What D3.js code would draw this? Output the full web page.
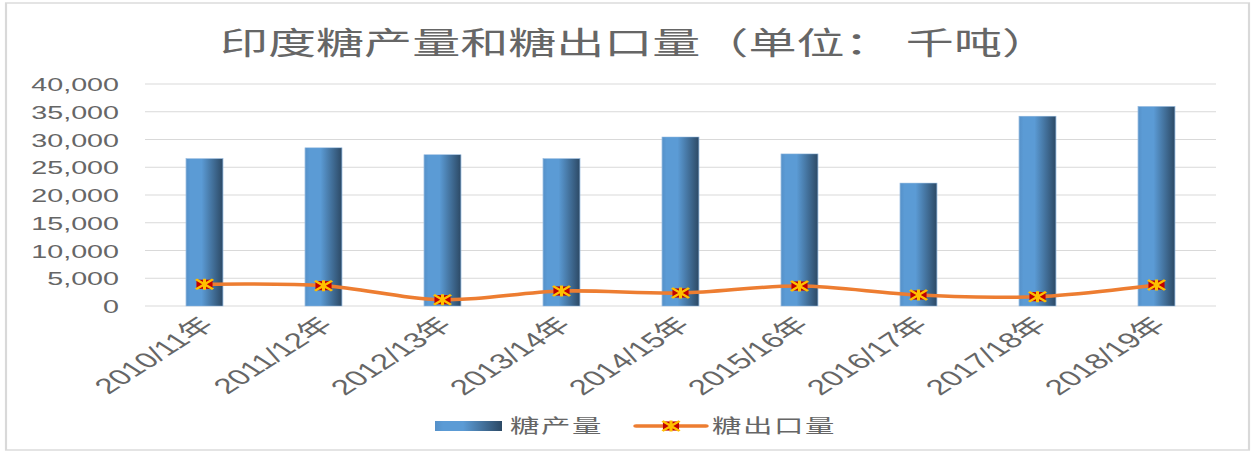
<!DOCTYPE html>
<html>
<head>
<meta charset="utf-8">
<script src="https://d3js.org/d3.v7.min.js"></script>
<style>
body{margin:0;background:#fff;}
svg{display:block;}
</style>
</head>
<body>
<div id="chart"></div>
<script>
var years = ['2010/11年','2011/12年','2012/13年','2013/14年','2014/15年','2015/16年','2016/17年','2017/18年','2018/19年'];
var production = [26550,28500,27250,26550,30450,27400,22150,34200,35950];
var exports = [3910,3660,1140,2700,2340,3600,1980,1680,3780];
var yTicks = [0,5000,10000,15000,20000,25000,30000,35000,40000];
var seriesNames = ['糖产量','糖出口量'];
var title = '印度糖产量和糖出口量（单位： 千吨）';

//the reference is stretched sideways, so draw in a narrow space and scale it out
var W = 1252, H = 454, S = 1.55,
	w = W/S;

var svg = d3.select('#chart').append('svg')
	.attr('width',W).attr('height',H);

var defs = svg.append('defs');
var grad = defs.append('linearGradient').attr('id','barGrad')
	.attr('x1','0%').attr('x2','100%').attr('y1','0%').attr('y2','0%');
grad.append('stop').attr('offset','0%').attr('stop-color','#5590c8');
grad.append('stop').attr('offset','12%').attr('stop-color','#5b9bd5');
grad.append('stop').attr('offset','42%').attr('stop-color','#5b9bd5');
grad.append('stop').attr('offset','100%').attr('stop-color','#2c4965');

var g = svg.append('g').attr('transform','scale('+S+',1)');
var font = '"Liberation Sans","Noto Sans CJK SC",sans-serif';

//outer frame
g.append('rect')
	.attr('x',6/S).attr('y',3)
	.attr('width',(1249-6)/S).attr('height',447)
	.style('fill','none').style('stroke','#d9d9d9').style('stroke-width',1.4);

var x = d3.scaleBand().domain(years).range([145/S,1216/S]);
var y = d3.scaleLinear().domain([0,40000]).range([306,84]);

//gridlines
g.selectAll('.grid').data(yTicks).enter().append('line')
	.attr('class','grid')
	.attr('x1',x.range()[0]).attr('x2',x.range()[1])
	.attr('y1',function(d){return y(d)}).attr('y2',function(d){return y(d)})
	.style('stroke','#d9d9d9').style('stroke-width',1.2);

//y axis labels
var yAxis = d3.axisLeft(y).tickValues(yTicks).tickSize(0).tickPadding(0)
	.tickFormat(d3.format(','));
g.append('g').attr('transform','translate('+(119/S)+',0)').call(yAxis)
	.call(function(a){a.select('.domain').remove();})
	.selectAll('text')
	.attr('dy','0.36em')
	.style('font-family',font).style('font-size','18.5px').style('fill','#666');

//x axis labels
var xAxis = d3.axisBottom(x).tickSize(0).tickPadding(0);
g.append('g').attr('transform','translate(0,306)').call(xAxis)
	.call(function(a){a.select('.domain').remove();})
	.selectAll('text')
	.attr('text-anchor','end')
	.attr('dy',0).attr('y',0)
	.attr('transform','translate(7,20) rotate(-45)')
	.style('font-family',font).style('font-size','21.5px').style('fill','#666');

//bars
var bw = x.bandwidth()*0.31;
g.selectAll('.bar').data(production).enter().append('rect')
	.attr('class','bar')
	.attr('x',function(d,i){return x(years[i])+x.bandwidth()/2-bw/2})
	.attr('y',function(d){return y(d)})
	.attr('width',bw)
	.attr('height',function(d){return y(0)-y(d)})
	.style('fill','url(#barGrad)')
	.style('stroke','#8fb6de').style('stroke-width',0.5);

//export line
var line = d3.line()
	.x(function(d,i){return x(years[i])+x.bandwidth()/2})
	.y(function(d){return y(d)})
	.curve(d3.curveCatmullRom.alpha(0.5));

g.append('path').datum(exports)
	.attr('d',line)
	.style('fill','none').style('stroke','#ed7d31').style('stroke-width',3.6)
	.style('stroke-linecap','round').style('stroke-linejoin','round');

function marker(sel){
	sel.append('rect')
		.attr('x',-5.2).attr('y',-4.6).attr('width',10.4).attr('height',9.2)
		.style('fill','#c00000');
	sel.append('path')
		.attr('d','M-5.5,-5L5.5,5M-5.5,5L5.5,-5M0,-5.5L0,5.5')
		.style('stroke','#ffc000').style('stroke-width',2).style('fill','none');
}

g.selectAll('.mark').data(exports).enter().append('g')
	.attr('class','mark')
	.attr('transform',function(d,i){return 'translate('+(x(years[i])+x.bandwidth()/2)+','+y(d)+')'})
	.call(marker);

//title
g.append('text')
	.attr('x',635/S).attr('y',54)
	.attr('text-anchor','middle')
	.style('font-family',font).style('font-size','31px').style('fill','#666')
	.text(title);

//legend
var leg = g.append('g').attr('transform','translate(0,426)');
leg.append('rect')
	.attr('x',435/S).attr('y',-5).attr('width',67/S).attr('height',10)
	.style('fill','url(#barGrad)');
leg.append('text')
	.attr('x',510/S).attr('y',7)
	.style('font-family',font).style('font-size','19px').style('fill','#666')
	.style('letter-spacing','1px')
	.text(seriesNames[0]);
leg.append('line')
	.attr('x1',636/S).attr('x2',706/S).attr('y1',0).attr('y2',0)
	.style('stroke','#ed7d31').style('stroke-width',3.6).style('stroke-linecap','round');
leg.append('g').attr('transform','translate('+(671/S)+',0)').call(marker);
leg.append('text')
	.attr('x',712/S).attr('y',7)
	.style('font-family',font).style('font-size','19px').style('fill','#666')
	.style('letter-spacing','1px')
	.text(seriesNames[1]);
</script>
</body>
</html>
